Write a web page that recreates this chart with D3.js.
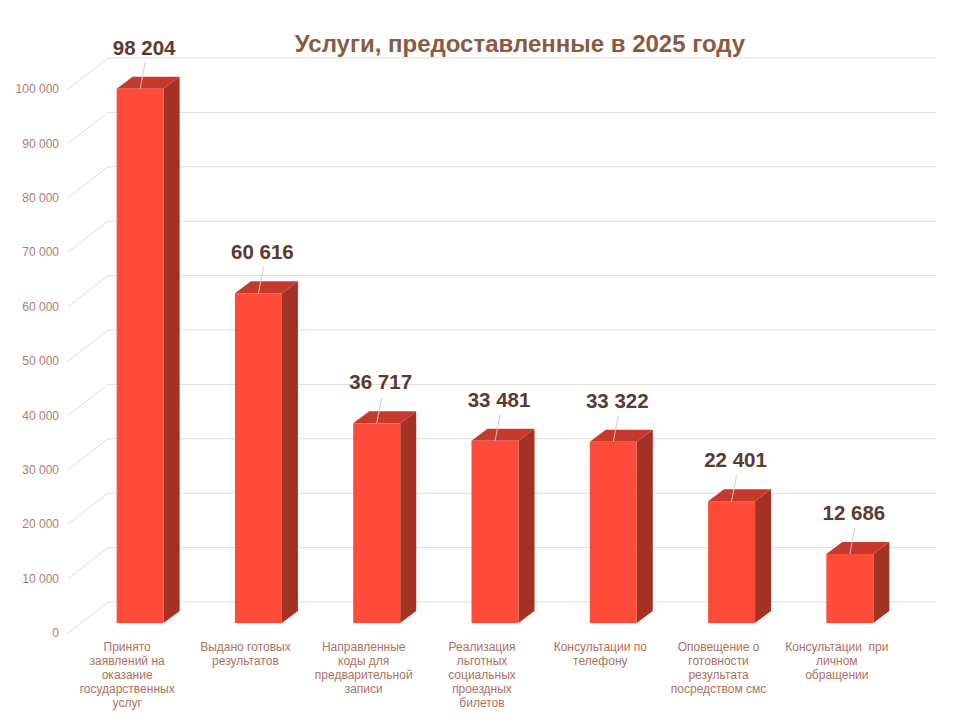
<!DOCTYPE html>
<html>
<head>
  <meta charset="utf-8">
  <script src="https://d3js.org/d3.v7.min.js"></script>
  <style>
    body { margin: 0; background: #fff; }
    text { font-family: Arial, "Liberation Sans", sans-serif; }
  </style>
</head>
<body>
  <div id="chart"></div>

  <script>
    // data
    const categories = [
      ["Принято", "заявлений на", "оказание", "государственных", "услуг"],
      ["Выдано готовых", "результатов"],
      ["Направленные", "коды для", "предварительной", "записи"],
      ["Реализация", "льготных", "социальных", "проездных", "билетов"],
      ["Консультации по", "телефону"],
      ["Оповещение о", "готовности", "результата", "посредством смс"],
      ["Консультации  при", "личном", "обращении"]
    ];
    const values = [98204, 60616, 36717, 33481, 33322, 22401, 12686];
    const yTicks = [0, 10000, 20000, 30000, 40000, 50000, 60000, 70000, 80000, 90000, 100000];
    const title = "Услуги, предоставленные в 2025 году";

    const width = 960, height = 720;

    // 3D offsets
    const wallDx = 40, wallDy = -31;   // floor depth
    const barOffX = 13, barOffY = -10; // bar front from floor front
    const depthDx = 16, depthDy = -12; // bar depth
    const barW = 47;

    const svg = d3.select("#chart")
      .append("svg")
      .attr("width", width)
      .attr("height", height);

    const x = d3.scaleBand()
      .domain(d3.range(values.length))
      .range([68, 896]);

    const y = d3.scaleLinear()
      .domain([0, 100000])
      .range([633, 89]);

    // number format with space as thousands separator
    const fmt = d => d3.format(",")(d).replace(/,/g, " ");

    // gridlines: back wall + left side wall
    const grid = svg.append("g");
    yTicks.forEach(t => {
      const fy = y(t);
      grid.append("line")
        .attr("x1", 68).attr("y1", fy)
        .attr("x2", 68 + wallDx).attr("y2", fy + wallDy)
        .attr("stroke", "#e6d9d6").attr("stroke-width", 1);
      grid.append("line")
        .attr("x1", 68 + wallDx).attr("y1", fy + wallDy)
        .attr("x2", 936).attr("y2", fy + wallDy)
        .attr("stroke", "#e6d9d6").attr("stroke-width", 1);
    });

    // y tick labels
    svg.append("g").selectAll("text")
      .data(yTicks)
      .join("text")
      .attr("x", 59)
      .attr("y", d => y(d))
      .attr("dy", "0.35em")
      .attr("text-anchor", "end")
      .attr("fill", "#b07b6b")
      .style("font-size", "12px")
      .text(d => fmt(d));

    // bars
    const bars = svg.append("g").selectAll("g")
      .data(values)
      .join("g");

    const bx = (d, i) => x(i) + (x.bandwidth() - barW) / 2 + barOffX;
    const by0 = y(0) + barOffY;
    const bt = d => y(d) + barOffY;

    // side face
    bars.append("path")
      .attr("fill", "#a33124")
      .attr("d", (d, i) => {
        const x1 = bx(d, i) + barW;
        return `M${x1},${bt(d)} L${x1 + depthDx},${bt(d) + depthDy} L${x1 + depthDx},${by0 + depthDy} L${x1},${by0} Z`;
      });

    // top face
    bars.append("path")
      .attr("fill", "#c53a2b")
      .attr("d", (d, i) => {
        const x0 = bx(d, i), t = bt(d);
        return `M${x0},${t} L${x0 + depthDx},${t + depthDy} L${x0 + barW + depthDx},${t + depthDy} L${x0 + barW},${t} Z`;
      });

    // front face
    bars.append("rect")
      .attr("fill", "#ff4b39")
      .attr("x", (d, i) => bx(d, i))
      .attr("y", d => bt(d))
      .attr("width", barW)
      .attr("height", d => by0 - bt(d));

    // leader lines
    bars.append("line")
      .attr("x1", (d, i) => bx(d, i) + barW / 2)
      .attr("y1", d => bt(d))
      .attr("x2", (d, i) => bx(d, i) + barW / 2 + 5)
      .attr("y2", d => bt(d) - 26)
      .attr("stroke", "#d9c9c4")
      .attr("stroke-width", 1);

    // value labels
    bars.append("text")
      .attr("x", (d, i) => bx(d, i) + barW / 2 + 4)
      .attr("y", d => bt(d) - 34)
      .attr("text-anchor", "middle")
      .attr("fill", "#5c3a2e")
      .style("font-size", "20.5px")
      .style("font-weight", "bold")
      .text(d => fmt(d));

    // category labels
    const cat = svg.append("g").selectAll("text")
      .data(categories)
      .join("text")
      .attr("x", (d, i) => x(i) + x.bandwidth() / 2)
      .attr("y", 651)
      .attr("text-anchor", "middle")
      .attr("fill", "#b07060")
      .style("font-size", "12px")
      .style("white-space", "pre");

    cat.selectAll("tspan")
      .data(d => d)
      .join("tspan")
      .attr("x", function () { return this.parentNode.getAttribute("x"); })
      .attr("dy", (d, i) => i === 0 ? 0 : 14)
      .text(d => d);

    // title
    svg.append("text")
      .attr("x", 520)
      .attr("y", 52)
      .attr("text-anchor", "middle")
      .attr("fill", "#8d5a3f")
      .style("font-size", "24px")
      .style("font-weight", "bold")
      .text(title);
  </script>
</body>
</html>
